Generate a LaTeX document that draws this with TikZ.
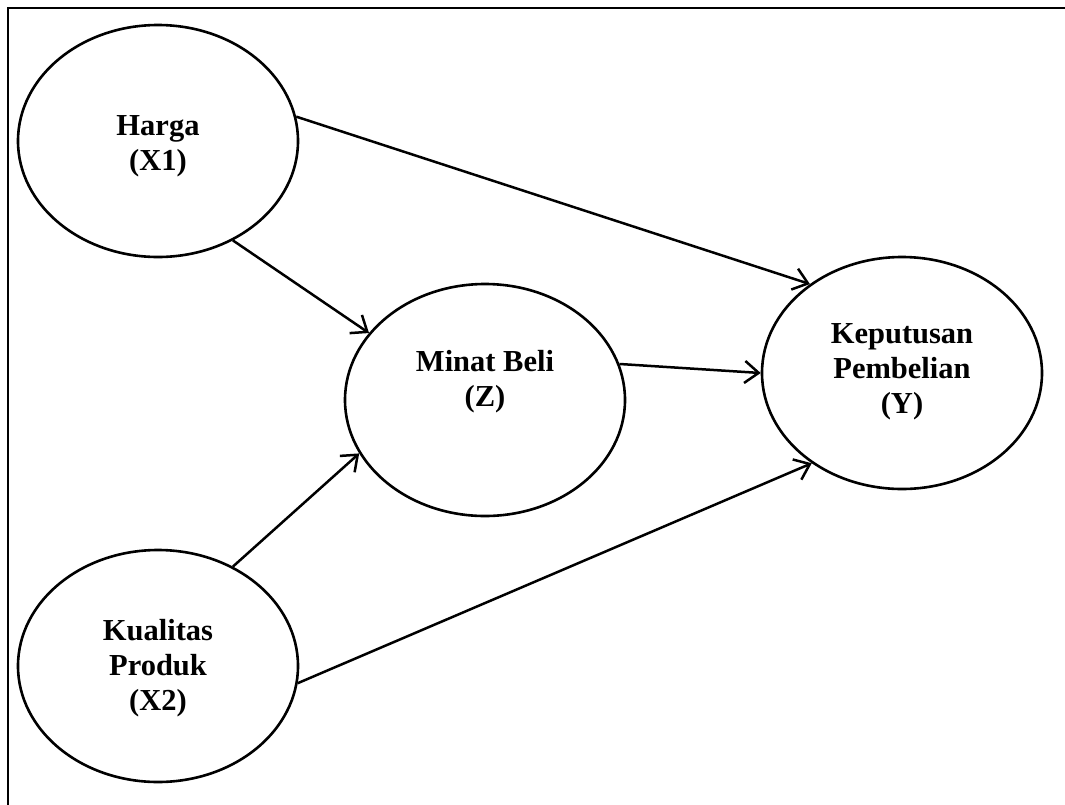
\documentclass[tikz,border=0pt]{standalone}
\usepackage{fontspec}
\setmainfont{Liberation Serif}
\usetikzlibrary{shapes.geometric,arrows.meta}
\begin{document}
\begin{tikzpicture}[x=1pt,y=-1pt,
  var/.style={draw=black,line width=2.6pt,ellipse,minimum width=280pt,minimum height=232pt,inner sep=0pt},
  txt/.style={align=center,font=\fontsize{30.5}{35}\selectfont\bfseries,inner sep=0pt},
  conn/.style={draw=black,line width=2.5pt,-{Straight Barb[length=14pt,width=22pt,line width=2.5pt]}},
  frame/.style={draw=black,line width=2.8pt}]
\useasboundingbox (0,0) rectangle (1065,804);
\coordinate (c0) at (8,8);
\coordinate (c1) at (1066,8);
\coordinate (c2) at (8,805);
\draw[frame] (c1) -- (c0) -- (c2);
\node[var] (h) at (158,141) {};
\node[txt] (ht) at (158,146) {Harga\\(X1)};
\node[var] (q) at (158,666) {};
\node[txt] (qt) at (158,668) {Kualitas\\Produk\\(X2)};
\node[var] (m) at (485,400) {};
\node[txt] (mt) at (485,382) {Minat Beli\\(Z)};
\node[var] (k) at (902,373) {};
\node[txt] (kt) at (902,372) {Keputusan\\Pembelian\\(Y)};
\draw[conn] (h.10) -- (k.136);
\draw[conn] (h.-53) -- (m.150);
\draw[conn] (m.15) -- (k.180);
\draw[conn] (q.53) -- (m.203);
\draw[conn] (q.-7) -- (k.225);
\end{tikzpicture}
\end{document}
